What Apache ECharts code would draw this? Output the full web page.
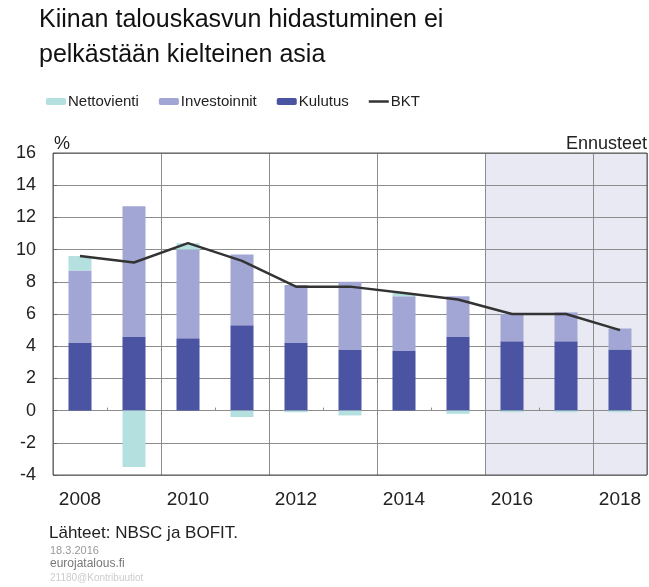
<!DOCTYPE html>
<html>
<head>
<meta charset="utf-8">
<script src="https://cdn.jsdelivr.net/npm/echarts@6/dist/echarts.min.js"></script>
<style>
    html, body { margin: 0; padding: 0; background: #fff; }
    #chart { width: 649px; height: 587px; }
</style>
</head>
<body>
<div id="chart"></div>
<script>
// data, % contribution to GDP growth
var years = ['2008', '2009', '2010', '2011', '2012', '2013', '2014', '2015', '2016', '2017', '2018'];
var kulutus = [4.2, 4.6, 4.5, 5.3, 4.2, 3.8, 3.7, 4.6, 4.3, 4.3, 3.8];
var investoinnit = [4.5, 8.1, 5.5, 4.4, 3.6, 4.2, 3.4, 2.5, 1.7, 1.8, 1.3];
var nettovienti = [0.9, -3.5, 0.4, -0.4, -0.1, -0.3, 0.2, -0.2, -0.1, -0.1, -0.1];
var bkt = [9.6, 9.2, 10.4, 9.3, 7.7, 7.7, 7.3, 6.9, 6.0, 6.0, 5.0];
var yTicks = { min: -4, max: 16, step: 2 };
var forecastFrom = 8; // index of 2016

var font = '"Liberation Sans", Arial, sans-serif';
var gridColor = '#8c8c8c';

function txt(size, color) {
    return { fontFamily: font, fontSize: size, fontWeight: 'normal', color: color };
}

var chart = echarts.init(document.getElementById('chart'));
chart.setOption({
    backgroundColor: '#ffffff',
    animation: false,
    textStyle: { fontFamily: font },
    title: [
        {
            text: 'Kiinan talouskasvun hidastuminen ei\npelkästään kielteinen asia',
            left: 39, top: 3, padding: 0,
            textStyle: { fontFamily: font, fontSize: 25, fontWeight: 'normal', color: '#111', lineHeight: 35 }
        },
        { text: '%', left: 54, top: 135, padding: 0, textStyle: txt(18, '#222') },
        { text: 'Ennusteet', right: 2, top: 135, padding: 0, textStyle: txt(18, '#222') },
        { text: 'Lähteet: NBSC ja BOFIT.', left: 49, top: 525, padding: 0, textStyle: txt(17, '#222') },
        { text: '18.3.2016', left: 50, top: 545, padding: 0, textStyle: txt(11, '#999') },
        { text: 'eurojatalous.fi', left: 50, top: 558, padding: 0, textStyle: txt(12, '#777') },
        { text: '21180@Kontribuutiot', left: 50, top: 573, padding: 0, textStyle: txt(10, '#ccc') }
    ],
    legend: {
        left: 41, top: 89,
        itemWidth: 20, itemHeight: 7, itemGap: 20,
        textStyle: { fontFamily: font, fontSize: 15, color: '#222', padding: [0, 0, 0, -3] },
        data: [
            'Nettovienti', 'Investoinnit', 'Kulutus',
            { name: 'BKT', icon: 'path://M0,0H20V2.5H0Z' }
        ]
    },
    grid: {
        left: 53, right: 2, top: 153, bottom: 112,
        show: true, z: 3,
        backgroundColor: 'transparent',
        borderColor: '#555', borderWidth: 1
    },
    xAxis: [
        {
            type: 'category', data: years,
            axisLine: { show: false, onZero: false },
            axisTick: { show: false },
            axisLabel: { interval: 1, fontSize: 19, color: '#222', margin: 15, fontFamily: font },
            splitLine: {
                show: true,
                interval: function (i) { return i % 2 === 0; },
                lineStyle: { color: gridColor, width: 1 }
            }
        },
        {
            type: 'category', data: years, position: 'bottom',
            axisLine: { show: true, onZero: true, lineStyle: { color: gridColor } },
            axisTick: {
                show: true, inside: true, length: 3,
                interval: function (i) { return i % 2 === 1; },
                lineStyle: { color: gridColor }
            },
            axisLabel: { show: false },
            splitLine: { show: false }
        },
        {
            type: 'value', min: 0, max: years.length, show: false
        }
    ],
    yAxis: {
        type: 'value', min: yTicks.min, max: yTicks.max, interval: yTicks.step,
        axisLine: { show: false },
        axisTick: { show: true, inside: true, length: 4, lineStyle: { color: '#666' } },
        axisLabel: { fontSize: 18, color: '#222', margin: 17, fontFamily: font },
        splitLine: { lineStyle: { color: gridColor, width: 1 } }
    },
    series: [
        {
            name: 'forecast', type: 'line', xAxisIndex: 2, data: [],
            silent: true,
            markArea: {
                silent: true, z: -1,
                itemStyle: { color: '#e9e9f4', opacity: 1 },
                data: [[{ xAxis: forecastFrom }, { xAxis: years.length }]]
            }
        },
        {
            name: 'Kulutus', type: 'bar', stack: 'c', data: kulutus,
            barWidth: 23, itemStyle: { color: '#4b53a3' }
        },
        {
            name: 'Investoinnit', type: 'bar', stack: 'c', data: investoinnit,
            barWidth: 23, itemStyle: { color: '#a2a6d5' }
        },
        {
            name: 'Nettovienti', type: 'bar', stack: 'c', data: nettovienti,
            barWidth: 23, itemStyle: { color: '#b5e0e0' }
        },
        {
            name: 'BKT', type: 'line', data: bkt,
            symbol: 'none', z: 4,
            lineStyle: { color: '#333', width: 2.5 },
            itemStyle: { color: '#333' }
        }
    ]
});
</script>
</body>
</html>
